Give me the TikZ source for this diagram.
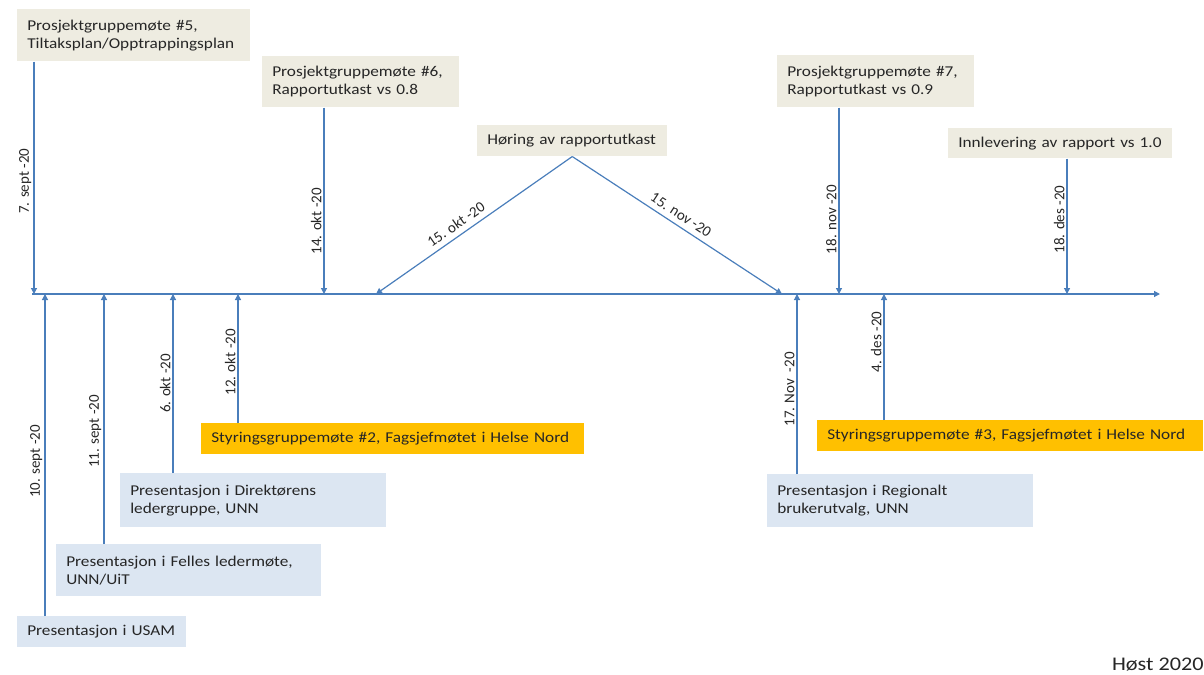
\documentclass[tikz,border=0pt]{standalone}
\usepackage{fontspec}
\setmainfont{Carlito}[FakeStretch=1.15]
\newfontfamily\datefont{Carlito}
\usetikzlibrary{arrows.meta}
\definecolor{colorLine}{HTML}{4A7EBB}
\definecolor{colorTop}{HTML}{EEECE1}
\definecolor{colorPres}{HTML}{DCE6F2}
\definecolor{colorStyr}{HTML}{FFC000}
\tikzset{
   every path/.style={>={Triangle[length=4.5pt,width=4.5pt]}},
   tl/.style={->,color=colorLine,line width=0.9pt},
   evt/.style={->,color=colorLine,line width=0.9pt},
   date/.style={font=\datefont\fontsize{11.25}{13}\selectfont,text=black!85,inner sep=1.5pt},
   vdate/.style={date,rotate=90,anchor=south},
   ddate/.style={date,sloped,above=2.5pt},
   sz/.style 2 args={text width=#1pt,minimum height=#2pt},
   box/.style={anchor=north west,inner xsep=7.5pt,inner ysep=0pt,align=left,
     font=\fontsize{11.25}{13.7}\selectfont,text=black!85},
   topbox/.style={box,fill=colorTop},
   presbox/.style={box,fill=colorPres},
   styrbox/.style={box,fill=colorStyr},
}

\begin{document}
\begin{tikzpicture}[x=0.75pt,y=-0.75pt]
  \useasboundingbox (0,0) rectangle (1204,675);

  % timeline
  \coordinate (tstart) at (32,  294);
  \coordinate (tend)   at (1160,294);
  \draw[tl] (tstart) -- (tend);

  \coordinate (d0907) at (34,  294);
  \coordinate (d0910) at (45,  294);
  \coordinate (d0911) at (104, 294);
  \coordinate (d1006) at (173, 294);
  \coordinate (d1012) at (238, 294);
  \coordinate (d1014) at (324, 294);
  \coordinate (d1015) at (376, 294);
  \coordinate (d1115) at (782, 294);
  \coordinate (d1117) at (797, 294);
  \coordinate (d1118) at (839, 294);
  \coordinate (d1204) at (884, 294);
  \coordinate (d1218) at (1067,294);

  % above the line
  \node[topbox,sz={159.75}{39}]   (pg5) at (17, 9)   {Prosjektgruppemøte \#5,\\Tiltaksplan/Opptrappingsplan};
  \node[topbox,sz={132.75}{38.25}] (pg6) at (262,56)  {Prosjektgruppemøte \#6,\\Rapportutkast vs 0.8};
  \node[topbox,sz={127.5}{23.25}] (hor) at (477,125) {Høring av rapportutkast};
  \node[topbox,sz={132.75}{39}]   (pg7) at (777,55)  {Prosjektgruppemøte \#7,\\Rapportutkast vs 0.9};
  \node[topbox,sz={153}{22.5}]    (inn) at (948,128) {Innlevering av rapport vs 1.0};

  % below the line
  \node[presbox,sz={111.75}{23.25}] (usam) at (17, 616) {Presentasjon i USAM};
  \node[presbox,sz={183.75}{39}]    (fel)  at (56, 544) {Presentasjon i Felles ledermøte,\\UNN/UiT};
  \node[presbox,sz={184.5}{40.5}]   (dir)  at (120,473) {Presentasjon i Direktørens\\ledergruppe, UNN};
  \node[styrbox,sz={272.25}{23.25}] (st2)  at (201,423) {Styringsgruppemøte \#2, Fagsjefmøtet i Helse Nord};
  \node[presbox,sz={184.5}{39.75}]  (reg)  at (767,474) {Presentasjon i Regionalt\\brukerutvalg, UNN};
  \node[styrbox,sz={274.5}{23.25}]  (st3)  at (817,420) {Styringsgruppemøte \#3, Fagsjefmøtet i Helse Nord};

  \draw[evt] (pg5.south -| d0907) -- node[vdate,pos=.515] {7. sept -20}  (d0907);
  \draw[evt] (pg6.south -| d1014) -- node[vdate,pos=.61]  {14. okt -20}  (d1014);
  \draw[evt] (pg7.south -| d1118) -- node[vdate,pos=.60]  {18. nov -20}  (d1118);
  \draw[evt] (inn.south -| d1218) -- node[vdate,pos=.45]  {18. des -20}  (d1218);

  \draw[evt] (hor.south) -- node[ddate,pos=.56] {15. okt -20} (d1015);
  \draw[evt] (hor.south) -- node[ddate,pos=.49] {15. nov -20} (d1115);

  \draw[evt] (usam.north -| d0910) -- node[vdate,pos=.48] {10. sept -20} (d0910);
  \draw[evt] (fel.north -| d0911)  -- node[vdate,pos=.45] {11. sept -20} (d0911);
  \draw[evt] (dir.north -| d1006)  -- node[vdate,pos=.50] {6. okt -20}   (d1006);
  \draw[evt] (st2.north -| d1012)  -- node[vdate,pos=.47] {12. okt -20}  (d1012);
  \draw[evt] (reg.north -| d1117)  -- node[vdate,pos=.47] {17. Nov\ \ -20} (d1117);
  \draw[evt] (st3.north -| d1204)  -- node[vdate,pos=.62] {4. des -20}   (d1204);

  \node[anchor=base east,inner sep=0pt,font=\fontsize{14.5}{16}\selectfont,text=black!85]
    (host) at (1204,670) {Høst 2020};
\end{tikzpicture}
\end{document}
